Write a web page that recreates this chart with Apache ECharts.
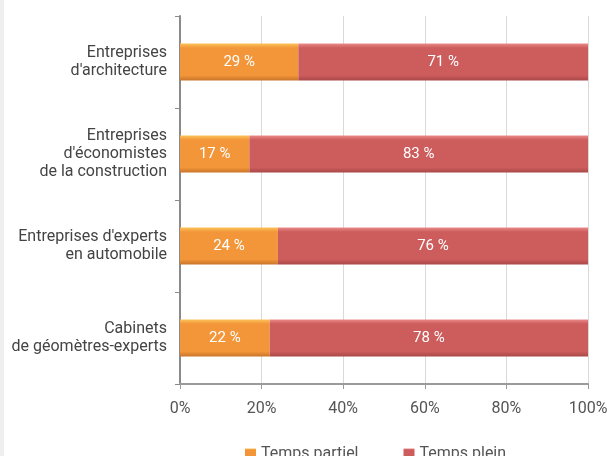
<!DOCTYPE html>
<html>
<head>
<meta charset="utf-8">
<script src="https://cdn.jsdelivr.net/npm/echarts@6/dist/echarts.min.js"></script>
<style>
  html, body { margin: 0; padding: 0; background: #ffffff; }
  #chart { width: 607px; height: 456px; }
  .strip { position: absolute; left: 0; top: 0; width: 4px; height: 456px; background: #eeeeee; }
</style>
</head>
<body>
<div class="strip"></div>
<div id="chart"></div>
<script>
// Part-time / full-time split per type of firm (percent)
const categories = [
  "Entreprises\nd'architecture",
  "Entreprises\nd'économistes\nde la construction",
  "Entreprises d'experts\nen automobile",
  "Cabinets\nde géomètres-experts"
];
const partTime = [29, 17, 24, 22];
const fullTime = [71, 83, 76, 78];
const xTicks = [0, 20, 40, 60, 80, 100];

const fontFamily = 'Roboto, "Noto Sans", sans-serif';

function bevel(top, mid, bottom) {
  return new echarts.graphic.LinearGradient(0, 0, 0, 1, [
    { offset: 0, color: top },
    { offset: 0.12, color: mid },
    { offset: 0.86, color: mid },
    { offset: 1, color: bottom }
  ]);
}

const labelStyle = {
  show: true,
  position: 'inside',
  color: '#ffffff',
  fontFamily: fontFamily,
  fontSize: 15,
  formatter: p => p.value + ' %'
};

const chart = echarts.init(document.getElementById('chart'), null, { renderer: 'canvas' });
chart.setOption({
  animation: false,
  backgroundColor: 'transparent',
  grid: { left: 180, right: 19, top: 16, bottom: 72, containLabel: false, outerBoundsMode: 'none' },
  xAxis: {
    type: 'value',
    min: 0,
    max: 100,
    interval: 20,
    axisLine: { show: true, lineStyle: { color: '#9a9a9a', width: 2 } },
    axisTick: { show: true, length: 5, lineStyle: { color: '#9a9a9a' } },
    splitLine: { show: true, lineStyle: { color: '#d9d9d9', width: 1 } },
    axisLabel: {
      color: '#555555',
      fontFamily: fontFamily,
      fontSize: 16,
      margin: 17,
      hideOverlap: false,
      formatter: v => xTicks.includes(v) ? v + '%' : ''
    }
  },
  yAxis: {
    type: 'category',
    data: categories,
    inverse: true,
    axisLine: { show: true, lineStyle: { color: '#8a8a8a', width: 2 } },
    axisTick: { show: true, length: 5, lineStyle: { color: '#8a8a8a' } },
    axisLabel: {
      color: '#444444',
      fontFamily: fontFamily,
      fontSize: 16,
      lineHeight: 18,
      margin: 13,
      align: 'right'
    }
  },
  legend: {
    left: 240,
    top: 441,
    itemWidth: 11,
    itemHeight: 11,
    itemGap: 45,
    icon: 'rect',
    textStyle: { color: '#555555', fontFamily: fontFamily, fontSize: 16 },
    data: ['Temps partiel', 'Temps plein']
  },
  series: [
    {
      name: 'Temps partiel',
      type: 'bar',
      stack: 'total',
      barWidth: 37,
      data: partTime,
      itemStyle: { color: bevel('#fbc25a', '#f39639', '#c9742a') },
      label: labelStyle
    },
    {
      name: 'Temps plein',
      type: 'bar',
      stack: 'total',
      barWidth: 37,
      data: fullTime,
      itemStyle: { color: bevel('#ec8a8a', '#cd5c5c', '#a94848') },
      label: labelStyle
    }
  ]
});
</script>
</body>
</html>
